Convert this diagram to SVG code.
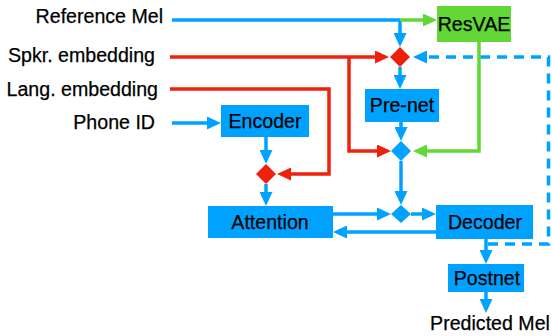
<svg xmlns="http://www.w3.org/2000/svg" width="552" height="336" viewBox="0 0 552 336">
<style>
text{font-family:"Liberation Sans",Arial,sans-serif;font-size:19.6px;fill:#000;stroke:#000;stroke-width:0.25}
.lbl{text-anchor:end}
.nt{text-anchor:middle}
.b{fill:#00A2FF}
.g{fill:#61D836}
.r{fill:#EE220C}
.lb{fill:none;stroke:#00A2FF;stroke-width:3.5}
.lr{fill:none;stroke:#EE220C;stroke-width:3.5}
.lg{fill:none;stroke:#61D836;stroke-width:3.5}
.dash{stroke-dasharray:10 7}
</style>
<defs>
<marker id="ab" viewBox="0 0 14 13" markerWidth="14" markerHeight="13" markerUnits="userSpaceOnUse" refX="1" refY="6.5" orient="auto"><path d="M0,0L14,6.5L0,13z" fill="#00A2FF"/></marker>
<marker id="ar" viewBox="0 0 14 13" markerWidth="14" markerHeight="13" markerUnits="userSpaceOnUse" refX="1" refY="6.5" orient="auto"><path d="M0,0L14,6.5L0,13z" fill="#EE220C"/></marker>
<marker id="ag" viewBox="0 0 14 13" markerWidth="14" markerHeight="13" markerUnits="userSpaceOnUse" refX="1" refY="6.5" orient="auto"><path d="M0,0L14,6.5L0,13z" fill="#61D836"/></marker>
</defs>
<g id="inputs">
<text class="lbl" x="163" y="23">Reference Mel</text>
<text class="lbl" x="155" y="62">Spkr. embedding</text>
<text class="lbl" x="158" y="96">Lang. embedding</text>
<text class="lbl" x="155" y="129">Phone ID</text>
</g>
<g id="connectors">
<path class="lb" d="M172,20H400"/>
<path class="lb" d="M400,20V34" marker-end="url(#ab)"/>
<path class="lg" d="M400,20H424" marker-end="url(#ag)"/>
<path class="lr" d="M170,57H376" marker-end="url(#ar)"/>
<path class="lr" d="M349,57V151H378" marker-end="url(#ar)"/>
<path class="lr" d="M170,89H329V174H290" marker-end="url(#ar)"/>
<path class="lb" d="M172,123H208" marker-end="url(#ab)"/>
<path class="lb" d="M266,137V151" marker-end="url(#ab)"/>
<path class="lb" d="M266,184V193" marker-end="url(#ab)"/>
<path class="lb" d="M400,67V76" marker-end="url(#ab)"/>
<path class="lb dash" d="M488,244H548.5V57H426" marker-end="url(#ab)"/>
<path class="lb" d="M401,122V128" marker-end="url(#ab)"/>
<path class="lg" d="M479,42V151H426" marker-end="url(#ag)"/>
<path class="lb" d="M401,161V192" marker-end="url(#ab)"/>
<path class="lb" d="M333,214H378" marker-end="url(#ab)"/>
<path class="lb" d="M411,214H423" marker-end="url(#ab)"/>
<path class="lb" d="M436,232H346" marker-end="url(#ab)"/>
<path class="lb" d="M486,239V251" marker-end="url(#ab)"/>
<path class="lb" d="M486,292V300" marker-end="url(#ab)"/>
</g>
<g id="mix1"><polygon class="r" points="400,47 410,57 400,67 390,57"/></g>
<g id="mix2"><polygon class="b" points="401,141 411,151 401,161 391,151"/></g>
<g id="mix3"><polygon class="r" points="266,164 276,174 266,184 256,174"/></g>
<g id="mix4"><polygon class="b" points="401,205 411,214 401,223 391,214"/></g>
<g id="resvae"><rect class="g" x="437" y="6" width="74" height="36"/><text class="nt" x="474" y="31">ResVAE</text></g>
<g id="prenet"><rect class="b" x="365" y="89" width="74" height="33"/><text class="nt" x="402" y="112">Pre-net</text></g>
<g id="encoder"><rect class="b" x="221" y="105" width="88" height="32"/><text class="nt" x="265" y="128">Encoder</text></g>
<g id="attention"><rect class="b" x="208" y="206" width="125" height="32"/><text class="nt" x="270" y="229">Attention</text></g>
<g id="decoder"><rect class="b" x="436" y="205" width="97" height="34"/><text class="nt" x="485" y="229">Decoder</text></g>
<g id="postnet"><rect class="b" x="448" y="264" width="76" height="28"/><text class="nt" x="487" y="285">Postnet</text></g>
<g id="output"><text class="nt" x="490" y="330">Predicted Mel</text></g>
</svg>
